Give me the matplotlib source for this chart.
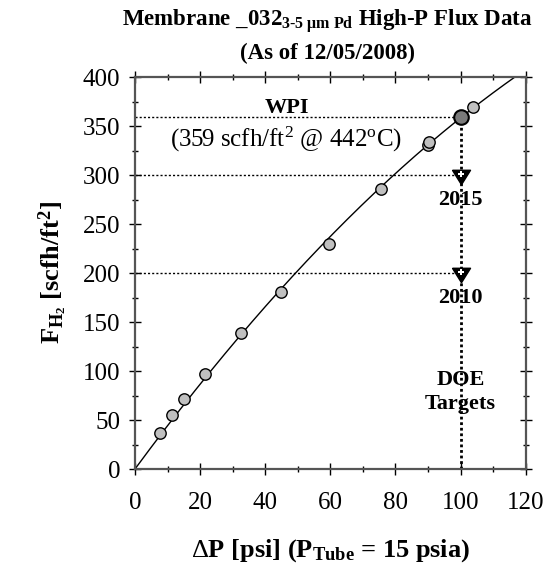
import numpy as np
import matplotlib
matplotlib.use("Agg")
import matplotlib.pyplot as plt

plt.rcParams['font.family'] = ['Liberation Serif', 'DejaVu Serif']
plt.rcParams['mathtext.fontset'] = 'custom'
plt.rcParams['mathtext.rm'] = 'Liberation Serif'
plt.rcParams['mathtext.bf'] = 'Liberation Serif:bold'
plt.rcParams['mathtext.it'] = 'Liberation Serif:italic'

# Data
dp = [7.6, 11.4, 15.1, 21.5, 32.7, 44.7, 59.6, 75.5, 90.0, 90.2, 103.9]
flux = [36.7, 55.0, 71.4, 97.0, 139.0, 180.3, 229.6, 285.7, 331.0, 334.0, 369.0]
wpi_dp, wpi_flux = 100.0, 359.0
targets_years = ["2015", "2010"]
targets_flux = [300, 200]
target_dp = 100.0

# Fit line through origin: F = a*x + b*x^2 (least squares on data)
allx = np.array(dp + [wpi_dp]); ally = np.array(flux + [wpi_flux])
A = np.vstack([allx, allx**2]).T
coef, *_ = np.linalg.lstsq(A, ally, rcond=None)
xf = np.linspace(0, 125, 300)
yf = coef[0]*xf + coef[1]*xf**2

fig = plt.figure(figsize=(5.49, 5.65), dpi=100)
ax = fig.add_axes([0.2459, 0.1699, 0.9575-0.2459, 0.8637-0.1699])

ax.plot(xf, yf, color='black', lw=1.0, zorder=2)

# dotted reference lines
ax.plot([0, wpi_dp], [wpi_flux, wpi_flux], ls=(0, (1.5, 1.5)), color='black', lw=1.0, zorder=1)
for tf in targets_flux:
    ax.plot([0, target_dp], [tf, tf], ls=(0, (1.5, 1.5)), color='black', lw=1.0, zorder=1)
ax.plot([target_dp, target_dp], [0, wpi_flux], ls=(0, (1, 1)), color='black', lw=2.0, zorder=1)

ax.plot(dp, flux, 'o', ms=8.2, mfc='#c0c0c0', mec='black', mew=1.0, zorder=3)
ax.plot([wpi_dp], [wpi_flux], 'o', ms=10.5, mfc='#7a7a7a', mec='black', mew=1.5, zorder=4)

tri = [(-1, 0.8), (1, 0.8), (0, -0.8), (-1, 0.8)]
ax.plot([target_dp]*2, [t - 2 for t in targets_flux], marker=tri, ls='none', ms=13,
        mfc='black', mec='black', zorder=4)
ax.plot([target_dp]*2, [t + 1 for t in targets_flux], 'P', ms=4, mfc='white', mec='white', mew=0, zorder=5)

ax.text(46.8, 368, 'WPI', ha='center', va='center', fontsize=16, fontweight='bold')
ax.text(46.5, 336, r'(359 scfh/ft$^{2}$ @ 442$^{\rm o}$C)', ha='center', va='center', fontsize=18)
for yr, tf in zip(targets_years, targets_flux):
    ax.text(target_dp, tf - 26, yr, ha='center', va='center', fontsize=16, fontweight='bold')
ax.text(target_dp, 91, 'DOE', ha='center', va='center', fontsize=16, fontweight='bold')
ax.text(target_dp, 66, 'Targets', ha='center', va='center', fontsize=16, fontweight='bold')

ax.set_xlim(0, 120)
ax.set_ylim(0, 400)
ax.set_xticks(np.arange(0, 121, 20))
ax.set_yticks(np.arange(0, 401, 50))
ax.set_xticks(np.arange(0, 121, 10), minor=True)
ax.set_yticks(np.arange(0, 401, 25), minor=True)
ax.tick_params(which='both', direction='inout', top=True, right=True, labelsize=18, width=1.0)
ax.tick_params(which='major', length=9)
ax.tick_params(axis='x', which='major', pad=12)
ax.tick_params(axis='y', which='major', pad=6)
ax.tick_params(which='minor', length=5)
for s in ax.spines.values():
    s.set_color('#555555')
    s.set_linewidth(1.6)

ax.set_xlabel(r'$\Delta$P [psi] (P$_{\mathbf{Tube}}$ = 15 psia)', fontsize=19, fontweight='bold', labelpad=17)
ax.set_ylabel(r'F$_{\mathbf{H_2}}$ [scfh/ft$^{\mathbf{2}}$]', fontsize=19, fontweight='bold', labelpad=10)
fig.text(0.596, 0.962, 'Membrane _032$_{\\mathbf{3\u20105\\ \\mu m\\ Pd}}$ High-P Flux Data', ha='center', va='center', fontsize=16.5, fontweight='bold')
fig.text(0.596, 0.906, '(As of 12/05/2008)', ha='center', va='center', fontsize=16.5, fontweight='bold')

fig.savefig('out.png', dpi=100)
